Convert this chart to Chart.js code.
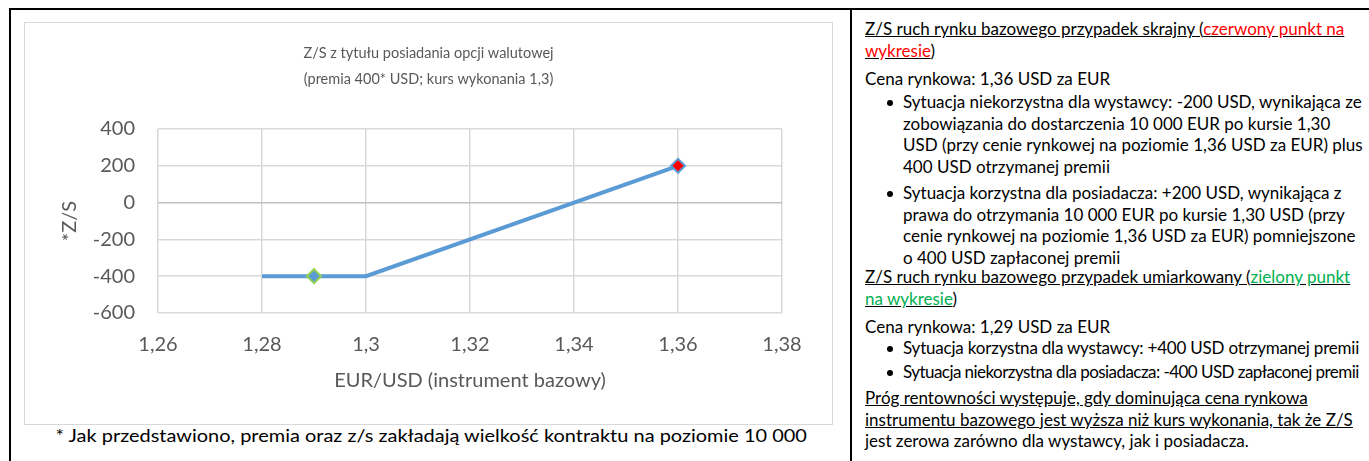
<!DOCTYPE html>
<html lang="pl">
<head>
<meta charset="utf-8">
<script src="https://cdn.jsdelivr.net/npm/chart.js@4.4.1/dist/chart.umd.min.js"></script>
<style>
  html, body { margin: 0; padding: 0; background: #fff; }
  body { width: 1369px; height: 461px; position: relative; overflow: hidden; font-family: Lato, "Open Sans", sans-serif; color: #000; }
  #ramka { position: absolute; left: 9px; top: 8px; width: 1360px; height: 453px; border-top: 2px solid #000; border-left: 2px solid #000; }
  #podzial { position: absolute; left: 850px; top: 8px; width: 2px; height: 453px; background: #000; }
  #wykres { position: absolute; left: 24px; top: 22px; width: 807px; height: 401px; border: 1px solid #d9d9d9; background: #fff; }
  #myChart { display: block; }
  #przypis { position: absolute; left: 24px; width: 821px; top: 426px; text-align: center; font-size: 17.5px; line-height: 20px; white-space: nowrap; transform: scaleX(1.14); transform-origin: 434px 0; }
  #opis { position: absolute; left: 865px; top: 0; font-size: 17px; line-height: 21.5px; white-space: nowrap; }
  #opis p { position: absolute; left: 0; margin: 0; }
  #opis .pkt { padding-left: 38px; }
  #opis .pkt::before { content: ""; position: absolute; left: 22px; top: 8.5px; width: 6px; height: 6px; border-radius: 50%; background: #000; }
  #opis .waski1 { letter-spacing: -0.2px; }
  #opis .waski2 { letter-spacing: -0.55px; }
  .pod { text-decoration: underline; }
  .czerwony { color: #ff0000; }
  .zielony { color: #00b050; }
</style>
</head>
<body>
<div id="ramka"></div>
<div id="podzial"></div>

<div id="wykres"><canvas id="myChart" width="807" height="401"></canvas></div>
<div id="przypis">* Jak przedstawiono, premia oraz z/s zakładają wielkość kontraktu na poziomie 10 000</div>

<div id="opis">
  <p class="pod" style="top:18px">Z/S ruch rynku bazowego przypadek skrajny (<span class="czerwony">czerwony punkt na<br>wykresie</span>)</p>
  <p style="top:68px">Cena rynkowa: 1,36 USD za EUR</p>
  <p class="pkt" style="top:91px">Sytuacja niekorzystna dla wystawcy: -200 USD, wynikająca ze<br>zobowiązania do dostarczenia 10 000 EUR po kursie 1,30<br>USD (przy cenie rynkowej na poziomie 1,36 USD za EUR) plus<br>400 USD otrzymanej premii</p>
  <p class="pkt" style="top:182px">Sytuacja korzystna dla posiadacza: +200 USD, wynikająca z<br>prawa do otrzymania 10 000 EUR po kursie 1,30 USD (przy<br>cenie rynkowej na poziomie 1,36 USD za EUR) pomniejszone<br>o 400 USD zapłaconej premii</p>
  <p class="pod" style="top:266px">Z/S ruch rynku bazowego przypadek umiarkowany (<span class="zielony">zielony punkt<br>na wykresie</span>)</p>
  <p style="top:316px">Cena rynkowa: 1,29 USD za EUR</p>
  <p class="pkt waski1" style="top:337px">Sytuacja korzystna dla wystawcy: +400 USD otrzymanej premii</p>
  <p class="pkt waski2" style="top:361px">Sytuacja niekorzystna dla posiadacza: -400 USD zapłaconej premii</p>
  <p style="top:387px"><span class="pod">Próg rentowności występuje, gdy dominująca cena rynkowa<br>instrumentu bazowego jest wyższa niż kurs wykonania, tak że Z/S</span><br>jest zerowa zarówno dla wystawcy, jak i posiadacza.</p>
</div>

<script>
// dane wykresu
const kursy = [1.28, 1.29, 1.30, 1.36];
const zyskStrata = [-400, -400, -400, 200];
const ticksX = [1.26, 1.28, 1.30, 1.32, 1.34, 1.36, 1.38];
const ticksY = [-600, -400, -200, 0, 200, 400];
const tytul = ["Z/S z tytułu posiadania opcji walutowej", "(premia 400* USD; kurs wykonania 1,3)"];
const tytulX = "EUR/USD (instrument bazowy)";
const tytulY = "*Z/S";

Chart.defaults.font.family = "Lato";
Chart.defaults.color = "#595959";

let punkty = [];
for (let i = 0; i < kursy.length; i++) {
  punkty.push({ x: kursy[i], y: zyskStrata[i] });
}

function formatKurs(v) {
  return String(Math.round(v * 100) / 100).replace(".", ",");
}

const config = {
  type: "line",
  data: {
    datasets: [
      {
        data: punkty,
        borderColor: "#5b9bd5",
        borderWidth: 4,
        tension: 0,
        fill: false,
        pointStyle: "rectRot",
        pointRadius: [0, 7, 0, 7],
        pointHoverRadius: [0, 7, 0, 7],
        pointBackgroundColor: ["#5b9bd5", "#5b9bd5", "#5b9bd5", "#ff0000"],
        pointBorderColor: ["#5b9bd5", "#92d050", "#5b9bd5", "#5b9bd5"],
        pointBorderWidth: 2,
      },
    ],
  },
  options: {
    responsive: false,
    animation: false,
    devicePixelRatio: 1,
    plugins: {
      legend: { display: false },
      tooltip: { enabled: false },
      title: {
        display: true,
        text: tytul,
        color: "#595959",
        font: { size: 14.5, weight: "normal", lineHeight: 26 / 14.5 },
        padding: { top: 17, bottom: 37 },
      },
    },
    scales: {
      x: {
        type: "linear",
        position: "bottom",
        min: ticksX[0],
        max: ticksX[ticksX.length - 1],
        afterBuildTicks: (scale) => { scale.ticks = ticksX.map((v) => ({ value: v })); },
        afterFit: (scale) => { scale.height = 111; },
        grid: { color: "#d9d9d9", lineWidth: 1.5, drawTicks: false },
        border: { display: false },
        ticks: { font: { size: 20 }, color: "#595959", padding: 20, callback: (v) => formatKurs(v) },
        title: { display: true, text: tytulX, color: "#595959", font: { size: 20 }, padding: { top: 0, bottom: 31 } },
      },
      y: {
        type: "linear",
        min: ticksY[0],
        max: ticksY[ticksY.length - 1],
        afterBuildTicks: (scale) => { scale.ticks = ticksY.map((v) => ({ value: v })); },
        afterFit: (scale) => { scale.width = 133; },
        grid: {
          color: (ctx) => (ctx.tick && ctx.tick.value === 0 ? "#bfbfbf" : "#d9d9d9"),
          lineWidth: 1.5,
          drawTicks: false,
        },
        border: { display: false },
        ticks: { font: { size: 20 }, color: "#595959", padding: 23, callback: (v) => String(v) },
        title: { display: true, text: tytulY, color: "#595959", font: { size: 20 }, padding: { top: 33, bottom: 0 } },
      },
      // pusty margines po prawej stronie obszaru wykresu
      prawy: {
        type: "linear",
        position: "right",
        display: true,
        grid: { display: false },
        border: { display: false },
        ticks: { display: false },
        afterFit: (scale) => { scale.width = 50; },
      },
    },
  },
};

let myChart = new Chart(document.getElementById("myChart"), config);
</script>
</body>
</html>
